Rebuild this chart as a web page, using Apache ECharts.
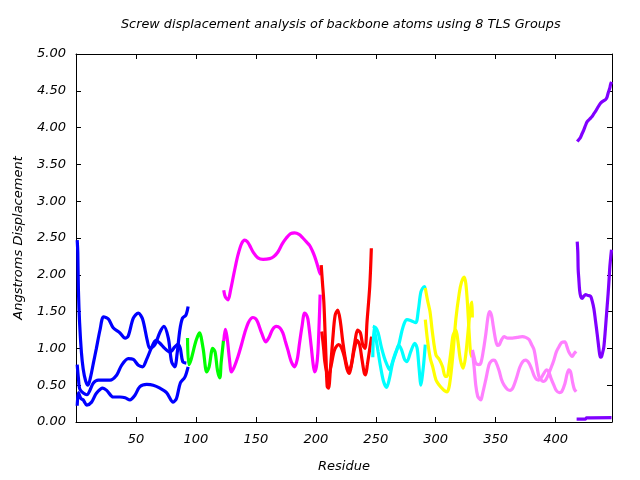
<!DOCTYPE html>
<html>
<head>
<meta charset="utf-8">
<script src="https://cdn.jsdelivr.net/npm/echarts@6/dist/echarts.min.js"></script>
<style>html,body{margin:0;padding:0;background:#fff}#c{width:640px;height:480px}</style>
</head>
<body>
<div id="c"></div>
<script>
// ---- data: [residue, displacement] ----
const titleText = "Screw displacement analysis of backbone atoms using 8 TLS Groups";
const xName = "Residue";
const yName = "Angstroms Displacement";
const xTicks = [0, 50, 100, 150, 200, 250, 300, 350, 400];
const yTicks = [0, 0.5, 1, 1.5, 2, 2.5, 3, 3.5, 4, 4.5, 5];

const blue1 = [[1,2.47],[1.5,2.30],[2,1.80],[3,1.35],[4.5,0.95],[6,0.72],[8,0.56],[10,0.50],[12,0.60],[14.5,0.80],[17,1.0],[20,1.25],[23,1.43],[27,1.40],[31,1.28],[36.7,1.21],[41,1.14],[43.6,1.17],[47.8,1.41],[52,1.48],[55.5,1.40],[59.4,1.11],[61.6,1.0],[65.8,1.05],[70,1.22],[73.3,1.30],[77,1.14],[79.7,0.82],[82.4,0.75],[84.4,0.94],[86.6,1.25],[88.8,1.41],[91.6,1.45],[93.5,1.57]];
const blue2 = [[1,0.78],[2,0.60],[3.4,0.44],[9,0.37],[14.5,0.53],[18.6,0.57],[28.4,0.57],[34,0.64],[38,0.77],[43.6,0.86],[47.8,0.85],[52,0.77],[55.5,0.75],[58.9,0.85],[63,1.01],[66.6,1.11],[70,1.07],[74,1.0],[78.3,0.95],[82.4,1.02],[85,1.06],[87,1.0],[89,0.82],[92,0.80]];
const blue3 = [[1,0.22],[2,0.40],[4,0.32],[6,0.30],[9,0.23],[13,0.27],[17,0.39],[22.3,0.46],[25.6,0.43],[31,0.34],[36.7,0.34],[41,0.33],[45,0.30],[49,0.36],[53.3,0.48],[59,0.51],[64.4,0.50],[70,0.46],[75.5,0.40],[81,0.27],[83.8,0.32],[87,0.53],[90.8,0.61],[93.5,0.75]];
const green1 = [[93,1.14],[94,0.78],[96,0.85],[100,1.10],[103,1.21],[106,1.0],[109,0.68],[111,0.75],[114,1.0],[116,0.95],[118,0.70],[120,0.60],[121,0.80],[123,1.11]];
const magenta1 = [[123.2,1.79],[124.5,1.70],[126.8,1.66],[129,1.80],[131,1.96],[133,2.12],[135.1,2.27],[138,2.42],[140.7,2.47],[142.8,2.45],[144.8,2.40],[148,2.30],[151.7,2.23],[156,2.21],[161.5,2.22],[165,2.25],[168.4,2.31],[172,2.42],[175.4,2.50],[179,2.56],[182.3,2.57],[186,2.55],[189.2,2.50],[192,2.45],[194.8,2.40],[197,2.33],[199,2.25],[201,2.15],[203,2.04],[204.4,2.00]];
const magenta2 = [[123.2,1.10],[124.5,1.26],[126,1.15],[128,0.85],[129.6,0.68],[132,0.75],[135.1,0.89],[138,1.05],[140.7,1.21],[144,1.36],[147.6,1.42],[150,1.40],[151.7,1.35],[155,1.20],[158.2,1.09],[161,1.15],[164,1.26],[167,1.30],[170,1.28],[172.5,1.21],[174.5,1.10],[176.7,0.98],[179.5,0.82],[182.3,0.75],[184.5,0.85],[186.4,1.07],[188.5,1.30],[190.6,1.48],[192,1.46],[193.4,1.40],[196.2,1.02],[197.5,0.82],[199,0.68],[200.5,0.75],[201.7,0.94],[202.8,1.35],[203.6,1.73]];
const red1 = [[204.5,2.13],[205.5,1.90],[206.7,1.63],[207.8,1.18],[208.6,0.82],[209.5,0.48],[210.6,0.46],[212.2,0.73],[214.2,1.14],[216.1,1.45],[218.3,1.52],[220.5,1.36],[222.5,1.09],[225.3,0.80],[227.5,0.71],[229.4,0.76],[232.2,1.05],[235,1.25],[237.2,1.21],[239.1,1.05],[241.1,1.0],[242.7,1.36],[245,1.85],[246.3,2.36]];
const red2 = [[205,1.23],[206.5,1.0],[207.5,0.82],[209,0.68],[210.5,0.62],[212.8,0.77],[215.6,0.98],[218.9,1.05],[221,1.02],[223.9,0.88],[226,0.72],[228,0.66],[230,0.80],[232,0.98],[234.5,1.11],[236.5,1.05],[238.5,0.85],[240.5,0.66],[241.5,0.64],[243,0.78],[245,1.0],[246.5,1.16]];
const cyan1 = [[247.5,1.30],[250,1.28],[252,1.21],[254.6,1.02],[257,0.88],[258.8,0.80],[261.6,0.71],[264,0.82],[266.2,0.93],[269,1.04],[271.7,1.23],[274,1.35],[276,1.39],[279,1.38],[283.3,1.35],[285.5,1.52],[287.7,1.77],[290.5,1.84],[291.3,1.82]];
const cyan2 = [[247.5,0.88],[248.5,1.28],[250,1.15],[252,0.95],[254,0.75],[256.5,0.55],[259,0.47],[261.5,0.60],[264,0.80],[267,0.95],[269,1.04],[271.5,0.98],[274,0.85],[276,0.82],[279,0.95],[282.5,1.07],[284.5,1.0],[286,0.75],[287.7,0.50],[289,0.65],[290,0.80],[291.3,1.05]];
const yellow1 = [[291.3,1.82],[293.2,1.65],[295.2,1.50],[297.3,1.21],[300.2,0.91],[303,0.85],[305.7,0.75],[307.9,0.62],[309.5,0.62],[311.2,0.78],[313,1.00],[314.5,1.18],[316.8,1.25],[318.5,1.10],[320.5,0.85],[322.9,0.73],[325.1,0.92],[327.9,1.39],[329.5,1.60],[330.3,1.63],[330.5,1.42]];
const yellow2 = [[291.3,1.39],[293.2,1.10],[295.5,0.86],[297.5,0.75],[300.2,0.57],[303,0.50],[305.7,0.45],[307.9,0.42],[309.5,0.41],[311.2,0.48],[313,0.70],[314.5,0.95],[316.8,1.40],[319.6,1.75],[321.5,1.90],[323.7,1.97],[325.1,1.88],[326.5,1.60],[327.9,1.20],[329,0.95],[330.3,0.88]];
const pink1 = [[330.6,0.98],[332,0.88],[333.4,0.80],[336,0.78],[337.6,0.80],[339.5,0.95],[341.8,1.20],[343.5,1.42],[344.8,1.50],[346.5,1.45],[348,1.30],[350,1.11],[351.5,1.04],[353,1.05],[355,1.12],[357,1.16],[360,1.14],[364,1.14],[368,1.15],[372.2,1.16],[375,1.15],[377.8,1.12],[380,1.05],[382,0.98],[384,0.80],[386,0.62],[388,0.57],[390.2,0.55],[392,0.58],[394.3,0.66],[396.5,0.75],[398.5,0.84],[400.5,0.95],[402.7,1.02],[405,1.08],[407.7,1.09],[409.5,1.02],[411,0.95],[413.8,0.89],[415.5,0.93],[417.1,0.96]];
const pink2 = [[330.6,0.95],[332,0.75],[333.4,0.50],[335,0.35],[336.2,0.32],[337.6,0.30],[339,0.38],[341.8,0.58],[344.5,0.78],[346.5,0.83],[348.5,0.84],[350,0.82],[352.8,0.70],[355,0.57],[357,0.50],[360,0.44],[362,0.43],[364.5,0.47],[367,0.58],[370,0.74],[372.5,0.82],[375,0.84],[377.8,0.80],[380,0.72],[382,0.63],[384,0.58],[386,0.57],[388,0.60],[390.2,0.66],[392.5,0.71],[394.3,0.68],[396,0.60],[398.5,0.50],[400.5,0.43],[403,0.40],[405,0.41],[407.7,0.52],[409.5,0.65],[411,0.71],[412.5,0.68],[414,0.55],[415.5,0.45],[417.1,0.41]];
const purple1 = [[418,3.81],[419.5,3.84],[420.8,3.87],[422.1,3.92],[423.5,3.97],[424.9,4.03],[426.3,4.08],[428,4.11],[430.4,4.15],[431.9,4.19],[433.2,4.22],[435,4.27],[437.4,4.33],[439.5,4.36],[441.6,4.38],[442.8,4.41],[443.8,4.47],[445.2,4.54],[445.7,4.58],[446.6,4.62]];
const purple2 = [[418,2.45],[418.5,2.30],[418.8,2.07],[419.3,1.95],[420,1.79],[421,1.70],[422.1,1.68],[423.5,1.71],[425,1.73],[427,1.72],[429.1,1.71],[430.4,1.65],[431.9,1.54],[433.2,1.38],[434.6,1.20],[435.7,1.05],[436.6,0.93],[437.4,0.88],[438.3,0.89],[439.3,0.95],[440.2,1.02],[441.2,1.20],[442.1,1.39],[443,1.58],[443.8,1.75],[444.6,1.95],[445.2,2.11],[446,2.25],[446.6,2.34]];
const purple3 = [[417.5,0.04],[424.9,0.04],[425.6,0.055],[446.6,0.06]];

const groups = [
  {data: blue1, color: '#0000ff'}, {data: blue2, color: '#0000ff'}, {data: blue3, color: '#0000ff'},
  {data: green1, color: '#00ff00'},
  {data: magenta1, color: '#ff00ff'}, {data: magenta2, color: '#ff00ff'},
  {data: red1, color: '#ff0000'}, {data: red2, color: '#ff0000'},
  {data: cyan1, color: '#00ffff'}, {data: cyan2, color: '#00ffff'},
  {data: yellow1, color: '#ffff00'}, {data: yellow2, color: '#ffff00'},
  {data: pink1, color: '#ff80ff'}, {data: pink2, color: '#ff80ff'},
  {data: purple1, color: '#8000ff'}, {data: purple2, color: '#8000ff'}, {data: purple3, color: '#8000ff'}
];

const FONT = 'DejaVu Sans';
const txt = {fontFamily: FONT, fontStyle: 'italic', fontSize: 13, color: '#000'};
const line = {onZero: false, lineStyle: {color: '#000', width: 1}};
const tick = {inside: true, length: 5, lineStyle: {color: '#000'}};

const chart = echarts.init(document.getElementById('c'), null, {renderer: 'canvas'});
chart.setOption({
  animation: false,
  backgroundColor: '#fff',
  title: {text: titleText, left: 121, top: 18, padding: 0,
    textStyle: Object.assign({}, txt, {fontWeight: 'normal', fontSize: 12.8})},
  grid: {left: 76, right: 28, top: 54, bottom: 58},
  xAxis: [
    {type: 'value', min: 0, max: 447, interval: 50, position: 'bottom',
     axisLine: line, axisTick: tick, splitLine: {show: false},
     axisLabel: Object.assign({}, txt, {margin: 11, showMinLabel: false, showMaxLabel: false,
       formatter: v => xTicks.indexOf(v) >= 0 ? String(v) : ''}),
     name: xName, nameLocation: 'middle', nameGap: 38, nameTextStyle: txt},
    {type: 'value', min: 0, max: 447, interval: 50, position: 'top',
     axisLine: line, axisTick: tick, splitLine: {show: false}, axisLabel: {show: false}}
  ],
  yAxis: [
    {type: 'value', min: 0, max: 5, interval: 0.5, position: 'left',
     axisLine: line, axisTick: tick, splitLine: {show: false},
     axisLabel: Object.assign({}, txt, {margin: 10, formatter: v => yTicks.indexOf(v) >= 0 ? v.toFixed(2) : ''}),
     name: yName, nameLocation: 'middle', nameGap: 51, nameRotate: 90, nameTextStyle: txt},
    {type: 'value', min: 0, max: 5, interval: 0.5, position: 'right',
     axisLine: line, axisTick: tick, splitLine: {show: false}, axisLabel: {show: false}}
  ],
  series: groups.map(g => ({
    type: 'line', data: g.data, xAxisIndex: 0, yAxisIndex: 0,
    symbol: 'none', smooth: 0.3, clip: true,
    lineStyle: {color: g.color, width: 3.2}, itemStyle: {color: g.color}
  }))
});
</script>
</body>
</html>
